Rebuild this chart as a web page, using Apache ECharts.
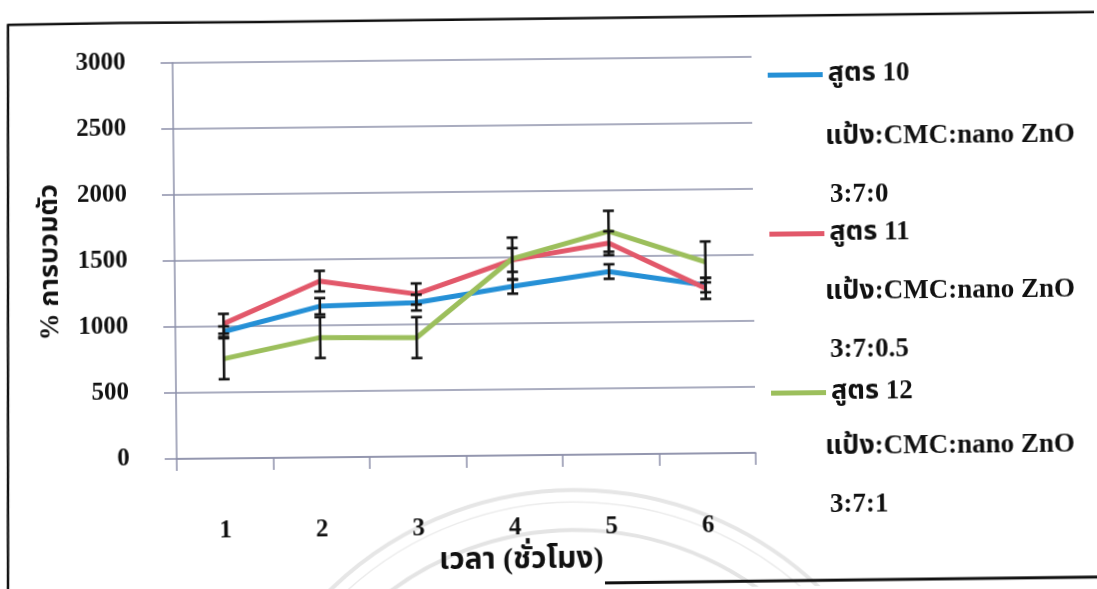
<!DOCTYPE html>
<html>
<head>
<meta charset="utf-8">
<script src="https://cdn.jsdelivr.net/npm/echarts@6/dist/echarts.min.js"></script>
<style>
  html, body { margin: 0; padding: 0; background: #fff; overflow: hidden; }
  #chart { width: 1097px; height: 589px; transform: rotate(-0.6deg); transform-origin: 50% 50%; }
</style>
</head>
<body>
<div id="chart"></div>
<script>
// Swelling (%) over time for three starch:CMC:nano ZnO formulas
const hours = ['1', '2', '3', '4', '5', '6'];
const yTicks = [0, 500, 1000, 1500, 2000, 2500, 3000];

const seriesNames = ['สูตร 10', 'สูตร 11', 'สูตร 12'];
const ratioLabels = ['3:7:0', '3:7:0.5', '3:7:1'];
const mixLabel = 'แป้ง:CMC:nano ZnO';

const swell10 = [960, 1145, 1165, 1280, 1385, 1275];
const err10   = [40, 62, 60, 55, 55, 55];
const swell11 = [1020, 1335, 1230, 1480, 1600, 1250];
const err11   = [75, 78, 80, 90, 90, 80];
const swell12 = [755, 908, 900, 1490, 1690, 1450];
const err12   = [155, 155, 155, 160, 155, 155];

const colors = ['#2590d6', '#e2586a', '#9cbf5c'];
const serif = '"Liberation Serif", "Times New Roman", "Noto Sans Thai", "Loma", serif';

const W = 1097, H = 589, TILT = 0.6 * Math.PI / 180;

// the page is turned slightly; map an upright page point into the turned canvas
function unturn(x, y) {
  const cx = W / 2, cy = H / 2, dx = x - cx, dy = y - cy;
  return [cx + dx * Math.cos(TILT) - dy * Math.sin(TILT),
          cy + dx * Math.sin(TILT) + dy * Math.cos(TILT)];
}

const chart = echarts.init(document.getElementById('chart'));

function errorSeries(values, errs) {
  const data = values.map((v, i) => [i, v - errs[i], v + errs[i]]);
  return {
    type: 'custom',
    z: 5,
    silent: true,
    renderItem: function (params, api) {
      const lo = api.coord([api.value(0), api.value(1)]);
      const hi = api.coord([api.value(0), api.value(2)]);
      const hw = 5.5;
      const st = { stroke: '#151515', lineWidth: 2.6 };
      return {
        type: 'group',
        children: [
          { type: 'line', shape: { x1: lo[0], y1: lo[1], x2: hi[0], y2: hi[1] }, style: st },
          { type: 'line', shape: { x1: lo[0] - hw, y1: lo[1], x2: lo[0] + hw, y2: lo[1] }, style: st },
          { type: 'line', shape: { x1: hi[0] - hw, y1: hi[1], x2: hi[0] + hw, y2: hi[1] }, style: st }
        ]
      };
    },
    data: data
  };
}

function lineSeries(name, values, color) {
  return {
    name: name,
    type: 'line',
    data: values,
    symbol: 'none',
    z: 3,
    lineStyle: { color: color, width: 5 },
    itemStyle: { color: color }
  };
}

// extra legend lines (mix + ratio) under each series name
const mixY = [137, 292, 447];
const ratioY = [195, 350, 505];
const extraText = [];
mixY.forEach((y, i) => {
  const p = unturn(825, y);
  const q = unturn(830, ratioY[i]);
  extraText.push({
    type: 'text', x: p[0], y: p[1],
    style: { text: mixLabel, font: 'bold 27px ' + serif, fill: '#111', verticalAlign: 'middle' }
  });
  extraText.push({
    type: 'text', x: q[0], y: q[1],
    style: { text: ratioLabels[i], font: 'bold 27px ' + serif, fill: '#111', verticalAlign: 'middle' }
  });
});

// page frame and the faint seal printed behind the chart
const frameTop = [[8, 25], [120, 23], [260, 22], [600, 18], [1100, 12]].map(p => unturn(p[0], p[1]));
const frameLeft = [[8, 24], [8, 600]].map(p => unturn(p[0], p[1]));
const frameBottom = [[605, 583], [1100, 577]].map(p => unturn(p[0], p[1]));
const sealC = unturn(576, 842);
const arcStart = Math.PI * 1.14, arcEnd = Math.PI * 1.86;
const decor = [
  { type: 'polyline', z: 0, shape: { points: frameTop }, style: { stroke: '#111', lineWidth: 2.5, fill: null } },
  { type: 'polyline', z: 0, shape: { points: frameLeft }, style: { stroke: '#111', lineWidth: 2.5, fill: null } },
  { type: 'polyline', z: 0, shape: { points: frameBottom }, style: { stroke: '#111', lineWidth: 3, fill: null } },
  { type: 'arc', z: -1, shape: { cx: sealC[0], cy: sealC[1], r: 352, startAngle: arcStart, endAngle: arcEnd },
    style: { stroke: '#e6e6e6', lineWidth: 4, fill: null } },
  { type: 'arc', z: -1, shape: { cx: sealC[0], cy: sealC[1], r: 340, startAngle: arcStart, endAngle: arcEnd },
    style: { stroke: '#ececec', lineWidth: 1.5, fill: null } },
  { type: 'arc', z: -1, shape: { cx: sealC[0], cy: sealC[1], r: 312, startAngle: arcStart, endAngle: arcEnd },
    style: { stroke: '#e4e4e4', lineWidth: 4, fill: null } }
];

chart.setOption({
  animation: false,
  backgroundColor: '#fff',
  color: colors,
  grid: { left: 175, right: 343, top: 59, bottom: 134 },
  legend: {
    orient: 'vertical',
    left: 765,
    top: 59,
    itemGap: 132,
    itemWidth: 55,
    itemHeight: 5,
    icon: 'rect',
    data: seriesNames,
    textStyle: { fontFamily: serif, fontWeight: 'bold', fontSize: 27, color: '#111' }
  },
  xAxis: {
    type: 'category',
    data: hours,
    boundaryGap: true,
    name: 'เวลา (ชั่วโมง)',
    nameLocation: 'middle',
    nameGap: 86,
    nameTextStyle: { fontFamily: serif, fontWeight: 'bold', fontSize: 30, color: '#111', padding: [0, 0, 0, 108] },
    axisLine: { lineStyle: { color: '#8d90aa', width: 1.5 } },
    axisTick: { show: true, length: 12, lineStyle: { color: '#8d90aa', width: 1.5 } },
    axisLabel: { margin: 60, fontFamily: serif, fontWeight: 'bold', fontSize: 25, color: '#111' },
    splitLine: { show: false }
  },
  yAxis: {
    type: 'value',
    min: yTicks[0],
    max: yTicks[yTicks.length - 1],
    interval: yTicks[1] - yTicks[0],
    name: '% การบวมตัว',
    nameLocation: 'middle',
    nameGap: 110,
    nameRotate: 90,
    nameTextStyle: { fontFamily: serif, fontWeight: 'bold', fontSize: 27, color: '#111' },
    axisLine: { show: true, lineStyle: { color: '#8d90aa', width: 1.5 } },
    axisTick: { show: true, length: 12, lineStyle: { color: '#8d90aa', width: 1.5 } },
    axisLabel: { margin: 47, fontFamily: serif, fontWeight: 'bold', fontSize: 25, color: '#111',
      formatter: v => String(v) },
    splitLine: { show: true, lineStyle: { color: '#8d90aa', width: 1.5 } }
  },
  graphic: extraText.concat(decor),
  series: [
    lineSeries(seriesNames[0], swell10, colors[0]),
    lineSeries(seriesNames[1], swell11, colors[1]),
    lineSeries(seriesNames[2], swell12, colors[2]),
    errorSeries(swell10, err10),
    errorSeries(swell11, err11),
    errorSeries(swell12, err12)
  ]
});
</script>
</body>
</html>
